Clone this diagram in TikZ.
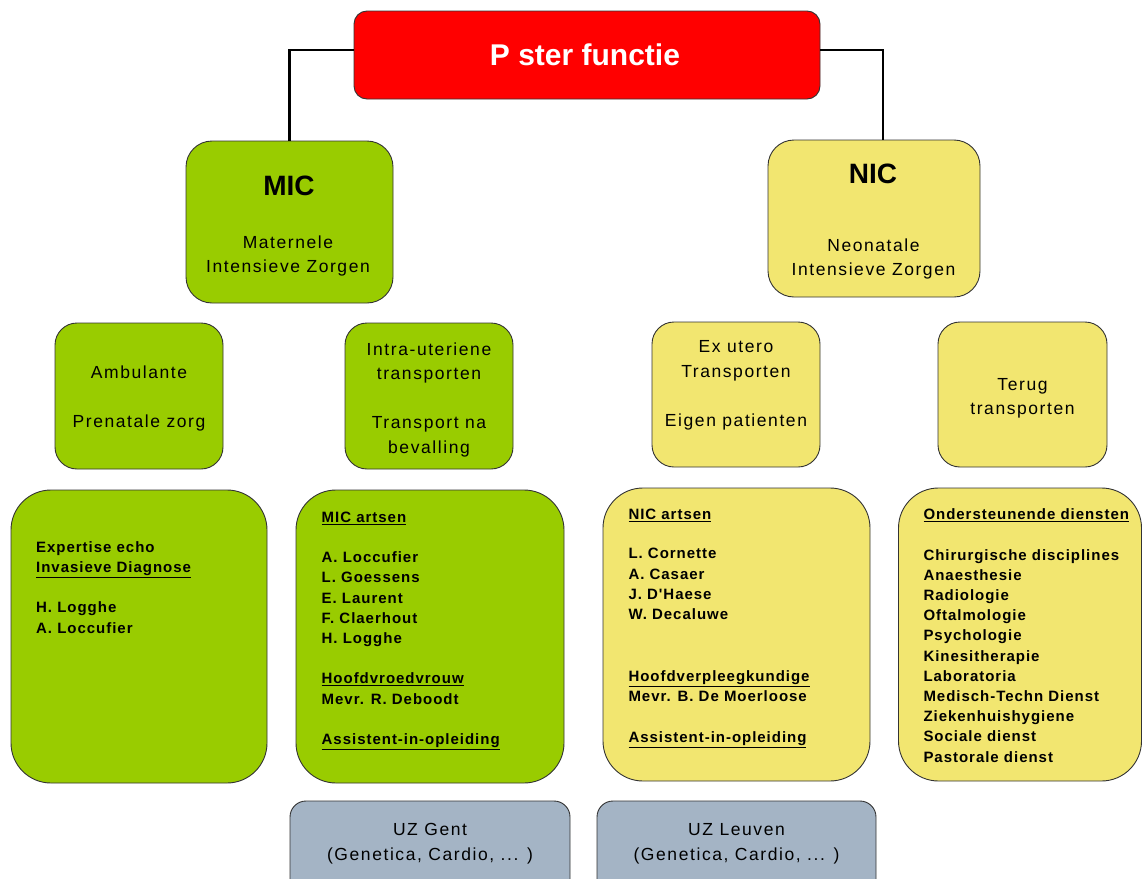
\documentclass[tikz,border=0pt]{standalone}
\usepackage{fontspec}
\setmainfont{Liberation Sans}
\newfontfamily\listfont{Liberation Sans}[LetterSpace=6.5]
\newfontfamily\subfont{Liberation Sans}[LetterSpace=9]
\definecolor{micgreen}{RGB}{153,204,0}
\definecolor{nicyellow}{RGB}{242,230,112}
\definecolor{uzgray}{RGB}{164,180,197}
\definecolor{topred}{RGB}{255,0,0}
\begin{document}
\begin{tikzpicture}[x=1pt,y=-1pt,
  box/.style={draw=black!80, line width=0.9pt, inner sep=0pt},
  conn/.style={draw=black, line width=2.6pt},
  listtxt/.style={inner sep=0pt, align=left, anchor=north west,
     font=\listfont\bfseries\fontsize{15}{20.2}\selectfont},
  subtxt/.style={inner sep=0pt, align=center, anchor=north,
     font=\subfont\fontsize{17.5}{24.5}\selectfont},
  titletxt/.style={inner sep=0pt, anchor=base, font=\bfseries\fontsize{28}{30}\selectfont}
]
\useasboundingbox (0,0) rectangle (1143,878);

% boxes
\node[box, fill=topred, rounded corners=13pt, minimum width=466pt, minimum height=88pt] (top) at (587,55) {};
\node[box, fill=micgreen, rounded corners=26pt, minimum width=207pt, minimum height=162pt] (mic) at (289.5,222) {};
\node[box, fill=nicyellow, rounded corners=26pt, minimum width=212pt, minimum height=157pt] (nic) at (874,218.5) {};
\node[box, fill=micgreen, rounded corners=22pt, minimum width=168pt, minimum height=146pt] (amb) at (139,396) {};
\node[box, fill=micgreen, rounded corners=22pt, minimum width=168pt, minimum height=146pt] (intra) at (429,396) {};
\node[box, fill=nicyellow, rounded corners=22pt, minimum width=168pt, minimum height=145pt] (ex) at (736,394.5) {};
\node[box, fill=nicyellow, rounded corners=22pt, minimum width=169pt, minimum height=145pt] (terug) at (1022.5,394.5) {};
\node[box, fill=micgreen, rounded corners=40pt, minimum width=256pt, minimum height=293pt] (exp) at (139,636.5) {};
\node[box, fill=micgreen, rounded corners=40pt, minimum width=268pt, minimum height=293pt] (micart) at (430,636.5) {};
\node[box, fill=nicyellow, rounded corners=40pt, minimum width=267pt, minimum height=293pt] (nicart) at (736.5,634.5) {};
\node[box, fill=nicyellow, rounded corners=40pt, minimum width=243pt, minimum height=293pt] (ond) at (1020,634.5) {};
\node[box, fill=uzgray, rounded corners=16pt, minimum width=280pt, minimum height=100pt] (uzg) at (430,851) {};
\node[box, fill=uzgray, rounded corners=16pt, minimum width=279pt, minimum height=100pt] (uzl) at (736.5,851) {};

% connectors
\draw[conn] ([yshift=5pt]top.west) -| (mic.north);
\draw[conn] ([yshift=5pt]top.east) -| ([xshift=9pt]nic.north);

% titles
\node[inner sep=0pt, anchor=base, text=white, font=\bfseries\fontsize{30}{32}\selectfont] (toptxt) at (585,65) {P ster functie};
\node[titletxt] (mictitle) at (289,195) {MIC};
\node[titletxt] (nictitle) at (873,183.3) {NIC};
\node[subtxt, font=\subfont\fontsize{17.5}{24}\selectfont] (micsub) at (288,231.2) {\strut Maternele\\Intensieve Zorgen};
\node[subtxt, font=\subfont\fontsize{17.5}{24}\selectfont] (nicsub) at (873.5,234.9) {\strut Neonatale\\Intensieve Zorgen};

% second row texts
\node[subtxt] (ambtxt) at (139,361.2) {\strut Ambulante\\[24.5pt]Prenatale zorg};
\node[subtxt] (intratxt) at (429,337.9) {\strut Intra-uteriene\\transporten\\[24.5pt]Transport na\\bevalling};
\node[subtxt] (extxt) at (736,335.2) {\strut Ex utero\\Transporten\\[24.5pt]Eigen patienten};
\node[subtxt] (terugtxt) at (1022.5,372.9) {\strut Terug\\transporten};

% lists
\node[listtxt] (exptxt) at (36,537.9) {\strut Expertise echo\\\underline{Invasieve Diagnose}\\[20.2pt]H. Logghe\\A. Loccufier};
\node[listtxt] (micarttxt) at (321.5,507.9) {\strut\underline{MIC artsen}\\[20.2pt]A. Loccufier\\L. Goessens\\E. Laurent\\F. Claerhout\\H. Logghe\\[20.2pt]\underline{Hoofdvroedvrouw}\\Mevr. R. Deboodt\\[20.2pt]\underline{Assistent-in-opleiding}};
\node[listtxt] (nicarttxt) at (628.3,505.4) {\strut\underline{NIC artsen}\\[19pt]L. Cornette\\A. Casaer\\J. D'Haese\\W. Decaluwe\\[42pt]\underline{Hoofdverpleegkundige}\\Mevr. B. De Moerloose\\[20.2pt]\underline{Assistent-in-opleiding}};
\node[listtxt] (ondtxt) at (923.3,505.4) {\strut\underline{Ondersteunende diensten}\\[20.2pt]Chirurgische disciplines\\Anaesthesie\\Radiologie\\Oftalmologie\\Psychologie\\Kinesitherapie\\Laboratoria\\Medisch-Techn Dienst\\Ziekenhuishygiene\\Sociale dienst\\Pastorale dienst};

% UZ texts
\node[subtxt, font=\subfont\fontsize{17.5}{25}\selectfont] (uzgtxt) at (430,818) {\strut UZ Gent\\(Genetica, Cardio, ... )};
\node[subtxt, font=\subfont\fontsize{17.5}{25}\selectfont] (uzltxt) at (736.5,818) {\strut UZ Leuven\\(Genetica, Cardio, ... )};
\end{tikzpicture}
\end{document}
